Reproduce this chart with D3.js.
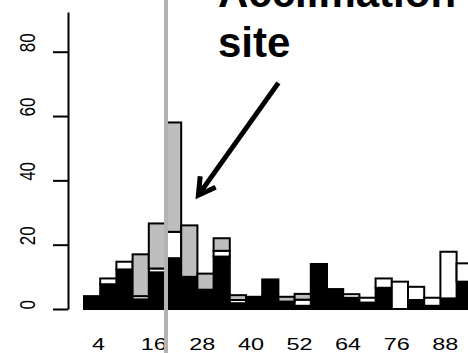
<!DOCTYPE html>
<html>
<head>
<meta charset="utf-8">
<script src="https://cdn.jsdelivr.net/npm/d3@7"></script>
<style>
  html, body { margin: 0; padding: 0; background: #fff; }
  svg { display: block; font-family: "Liberation Sans", Arial, sans-serif; }
</style>
</head>
<body>
<svg id="chart" width="468" height="353"></svg>
<script>
// Size classes (bin upper bounds) and the three stacked groups per bin
const categories = [4, 8, 12, 16, 20, 24, 28, 32, 36, 40, 44, 48,
                    52, 56, 60, 64, 68, 72, 76, 80, 84, 88, 92, 96];
const blackSeries = [4, 7.7, 12.3, 3, 11.4, 15.8, 10, 6, 16.3, 1.8, 3.8, 9.2,
                     2.3, 1, 14, 6.2, 3.5, 2, 6.6, 0, 2.8, 1, 3.3, 8.5];
const whiteSeries = [0, 1.8, 2.4, 1, 1.2, 8.2, 0, 0, 1.8, 1, 0, 0,
                     0, 1.9, 0, 0, 1.1, 1.5, 2.9, 8.5, 4.1, 2.5, 14.5, 5.7];
const graySeries  = [0, 0, 0, 13, 14, 34, 16, 5, 3.9, 1.5, 0, 0,
                     1.5, 1.8, 0, 0, 0, 0, 0, 0, 0, 0, 0, 0];
const xTickLabels = [4, 16, 28, 40, 52, 64, 76, 88];
const yTickValues = [0, 20, 40, 60, 80];
const markerBoundary = 24;   // class where the acclimation site starts
const titleLines = ["Acclimation", "site"];

const seriesKeys = ["black", "white", "gray"];
const fills = { black: "#000000", white: "#ffffff", gray: "#bebebe" };

const svg = d3.select("#chart");

const x = d3.scaleBand()
  .domain(categories)
  .range([84, 84 + categories.length * 16.2])
  .padding(0);

// continuous position in bar units, used for the annotation arrow
const xPos = d3.scaleLinear()
  .domain([0, categories.length])
  .range(x.range());

const y = d3.scaleLinear()
  .domain([0, 92.35])
  .range([309, 12]);

const table = categories.map((c, i) => ({
  cat: c, black: blackSeries[i], white: whiteSeries[i], gray: graySeries[i]
}));
const stacked = d3.stack().keys(seriesKeys)(table);

// stacked bars
svg.append("g")
  .selectAll("g")
  .data(stacked)
  .join("g")
    .attr("fill", d => fills[d.key])
  .selectAll("rect")
  .data(d => d)
  .join("rect")
    .attr("x", d => x(d.data.cat))
    .attr("width", x.bandwidth())
    .attr("y", d => y(d[1]))
    .attr("height", d => y(d[0]) - y(d[1]))
    .attr("stroke", "#000")
    .attr("stroke-width", 2);

// x labels (every third class)
const xAxis = svg.append("g")
  .attr("transform", `translate(0,${y(0)})`)
  .call(d3.axisBottom(x).tickValues(xTickLabels).tickSize(0));
xAxis.select(".domain").remove();
xAxis.selectAll("text")
  .attr("y", 41)
  .attr("dy", 0)
  .attr("text-anchor", "start")
  .attr("font-size", 16.5)
  .attr("font-family", "Liberation Sans, Arial, sans-serif")
  .attr("fill", "#000")
  .attr("transform", "scale(1.42,1)");

// vertical marker line at the acclimation site
svg.append("line")
  .attr("x1", x(markerBoundary) + 1)
  .attr("x2", x(markerBoundary) + 1)
  .attr("y1", 0)
  .attr("y2", 353)
  .attr("stroke", "#b3b3b3")
  .attr("stroke-width", 4);

// y axis
const yAxis = svg.append("g")
  .attr("transform", "translate(68,0)")
  .call(d3.axisLeft(y).tickValues(yTickValues).tickSize(15).tickSizeOuter(0));
yAxis.select(".domain").attr("stroke", "#000").attr("stroke-width", 2);
yAxis.selectAll(".tick line").attr("stroke", "#000").attr("stroke-width", 2);
yAxis.selectAll("text")
  .attr("x", 0)
  .attr("y", 0)
  .attr("dy", "0.36em")
  .attr("text-anchor", "start")
  .attr("font-size", 17)
  .attr("font-family", "Liberation Sans, Arial, sans-serif")
  .attr("fill", "#000")
  .attr("transform", "translate(-40.5,0) scale(1.25,1) rotate(-90)");

// annotation title
const title = svg.append("text")
  .attr("x", 218)
  .attr("y", 7)
  .attr("font-size", 42)
  .attr("font-weight", "bold")
  .attr("fill", "#000");
title.selectAll("tspan")
  .data(titleLines)
  .join("tspan")
    .attr("x", 218)
    .attr("dy", (d, i) => i === 0 ? 0 : 50)
    .text(d => d);

// arrow pointing to the site
const arrowFrom = { pos: 12.0, val: 70.3 };
const arrowTo   = { pos: 7.06, val: 35.4 };
const x0 = xPos(arrowFrom.pos), y0 = y(arrowFrom.val);
const x1 = xPos(arrowTo.pos),   y1 = y(arrowTo.val);
const ang = Math.atan2(y0 - y1, x0 - x1);
const headLen = 19, headAng = Math.PI / 6;
const w1 = [x1 + headLen * Math.cos(ang - headAng), y1 + headLen * Math.sin(ang - headAng)];
const w2 = [x1 + headLen * Math.cos(ang + headAng), y1 + headLen * Math.sin(ang + headAng)];
svg.append("line")
  .attr("x1", x0).attr("y1", y0)
  .attr("x2", x1).attr("y2", y1)
  .attr("stroke", "#000")
  .attr("stroke-width", 5);
svg.append("path")
  .attr("d", `M${w1[0]},${w1[1]}L${x1},${y1}L${w2[0]},${w2[1]}`)
  .attr("fill", "none")
  .attr("stroke", "#000")
  .attr("stroke-width", 5)
  .attr("stroke-linejoin", "miter");
</script>
</body>
</html>
